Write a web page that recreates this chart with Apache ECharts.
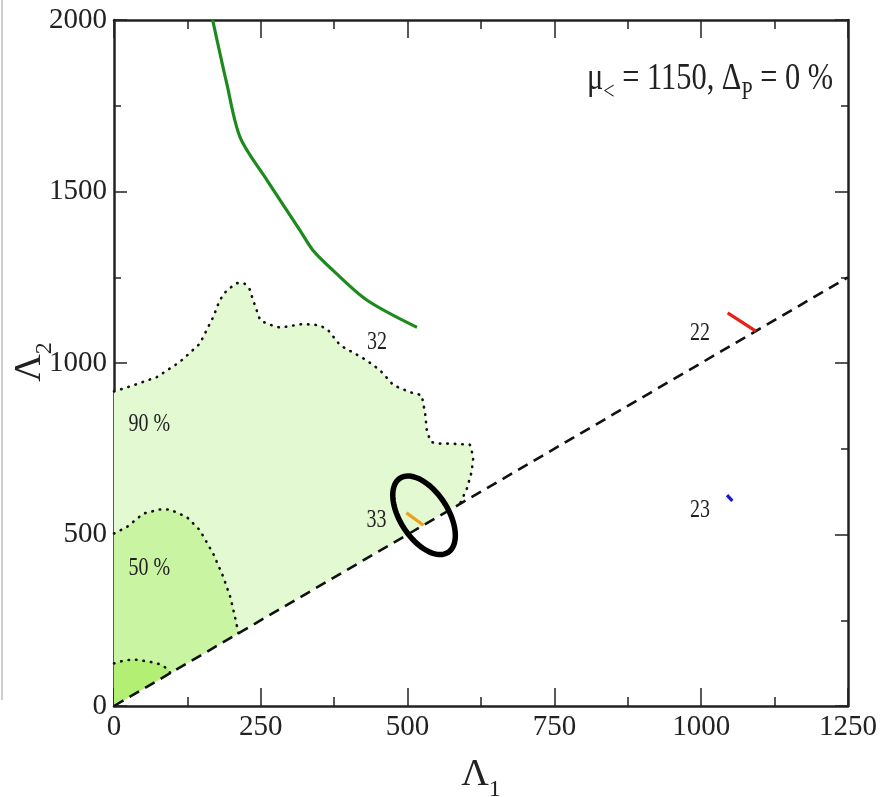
<!DOCTYPE html>
<html>
<head>
<meta charset="utf-8">
<script src="https://cdn.jsdelivr.net/npm/echarts@6/dist/echarts.min.js"></script>
<style>
  html, body { margin: 0; padding: 0; background: #fff; }
  #chart { width: 895px; height: 797px; }
</style>
</head>
<body>
<div id="chart"></div>
<script>
// Axis ranges and tick spacing
const xRange = [0, 1250];
const yRange = [0, 2000];
const xStep = 250;
const yStep = 500;

// Dashed boundary Λ2 = Λ1
const diagonal = [[0, 0], [1250, 1250]];

// Green curve
const greenCurve = [
  [168, 2000], [192, 1815], [215, 1657], [261, 1532], [317, 1386],
  [339, 1328], [373, 1270], [431, 1183], [516, 1104]
];

// Confidence contours (dotted outlines), each closed against the diagonal
const contour90 = [
  [0, 917], [33, 935], [73, 959], [112, 1003], [146, 1056], [169, 1134],
  [180, 1183], [192, 1212], [209, 1233], [222, 1232], [231, 1215], [237, 1183],
  [249, 1124], [263, 1113], [283, 1103], [308, 1110], [322, 1114], [351, 1110],
  [365, 1095], [385, 1052], [430, 1008], [453, 979], [476, 935], [504, 915],
  [524, 906], [530, 852], [533, 799], [540, 770], [549, 765], [572, 765],
  [606, 762], [612, 726], [609, 682], [601, 634], [592, 600], [589, 589]
];
const contour50 = [
  [0, 503], [22, 522], [50, 561], [78, 573], [95, 573], [124, 551],
  [146, 513], [169, 444], [186, 377], [198, 318], [206, 260], [212, 212]
];
const contourInner = [
  [0, 124], [16, 132], [33, 136], [61, 129], [78, 122], [90, 110], [96, 96]
];

// Ellipse: centre and two half-axes, in data units
const ellipseCenter = [528, 556];
const ellipseAxisA = [41, -108];
const ellipseAxisB = [-34, -38];

// Short coloured segments
const seg33 = [[498, 563], [527, 527]];
const seg22 = [[1045, 1146], [1093, 1093]];
const seg23 = [[1044, 615], [1053, 598]];

// In-plot text labels
const labelTexts = ['90 %', '50 %', '32', '33', '22', '23'];
const labelPos = [[60, 821], [60, 401], [448, 1060], [447, 542], [998, 1086], [998, 571]];

const SERIF = '"Liberation Serif", "Times New Roman", serif';
const INK = '#222';
const NARROW = 0.8; // horizontal squeeze for the tall, narrow lettering

function closedRegion(pts) {
  // region bounded by the y-axis, the outline, and the diagonal back to the origin
  return [[0, 0]].concat(pts);
}

function fillSeries(pts, color, z) {
  const poly = closedRegion(pts);
  return {
    type: 'custom',
    z: z,
    silent: true,
    data: [[0, 0]],
    renderItem: function (params, api) {
      return {
        type: 'polygon',
        shape: { points: poly.map(p => api.coord(p)) },
        style: { fill: color, stroke: null }
      };
    }
  };
}

function dottedSeries(pts) {
  return {
    type: 'line', data: pts, showSymbol: false, silent: true, z: 3,
    lineStyle: { color: '#111', width: 2.6, type: [0.5, 7], cap: 'round' }
  };
}

function segmentSeries(pts, color) {
  return {
    type: 'line', data: pts, showSymbol: false, silent: true, z: 6,
    lineStyle: { color: color, width: 3.2 }
  };
}

function axisCommon(show, tickLen, minorLen) {
  return {
    type: 'value',
    axisLine: { show: true, onZero: false, lineStyle: { color: INK, width: 2.5 } },
    axisTick: { show: true, inside: true, length: tickLen, lineStyle: { color: INK, width: 1.5 } },
    minorTick: { show: true, splitNumber: 2, length: minorLen, lineStyle: { color: INK, width: 1.5 } },
    splitLine: { show: false },
    axisLabel: {
      show: show, fontFamily: SERIF, fontSize: 29, color: INK, margin: 7,
      formatter: v => String(v)
    }
  };
}

const chart = echarts.init(document.getElementById('chart'), null, { renderer: 'canvas' });

const nameRich = {
  a: { fontFamily: SERIF, fontSize: 38, color: INK, fill: INK, lineHeight: 38, verticalAlign: 'top' },
  s: { fontFamily: SERIF, fontSize: 24, color: INK, fill: INK, lineHeight: 24, verticalAlign: 'top', padding: [22, 0, 0, 0] }
};

const option = {
  backgroundColor: '#fff',
  animation: false,
  grid: { left: 114, right: 47, top: 20, bottom: 91, containLabel: false, outerBoundsMode: 'none' },
  xAxis: [
    Object.assign(axisCommon(true, 18, 9), {
      min: xRange[0], max: xRange[1], interval: xStep, position: 'bottom',
      name: '{a|Λ}{s|1}', nameLocation: 'middle', nameGap: 50,
      nameTextStyle: { rich: nameRich }
    }),
    Object.assign(axisCommon(false, 18, 9), {
      min: xRange[0], max: xRange[1], interval: xStep, position: 'top'
    })
  ],
  yAxis: [
    Object.assign(axisCommon(true, 13, 7), {
      min: yRange[0], max: yRange[1], interval: yStep, position: 'left'
    }),
    Object.assign(axisCommon(false, 13, 7), {
      min: yRange[0], max: yRange[1], interval: yStep, position: 'right'
    })
  ],
  graphic: [
    { type: 'line', shape: { x1: 2, y1: 0, x2: 2, y2: 700 }, style: { stroke: '#cfcfcf', lineWidth: 2 } },
    {
      // vertical axis title Λ2
      type: 'text', x: 30, y: 362, rotation: Math.PI / 2, z: 10,
      style: {
        text: '{a|Λ}{s|2}',
        align: 'center', verticalAlign: 'middle',
        rich: nameRich
      }
    },
    {
      type: 'text', x: 833, y: 60, z: 10, scaleX: NARROW,
      style: {
        text: '{g|μ}{s|<}{g| = 1150, Δ}{s|P}{g| = 0 %}',
        align: 'right', verticalAlign: 'top',
        rich: {
          g: { fontFamily: SERIF, fontSize: 38, fill: INK, lineHeight: 38, verticalAlign: 'top' },
          s: { fontFamily: SERIF, fontSize: 25, fill: INK, lineHeight: 25, verticalAlign: 'top', padding: [20, 0, 0, 0] }
        }
      }
    }
  ],
  series: [
    fillSeries(contour90, '#e2f9d2', 1),
    fillSeries(contour50, '#c9f5a2', 1.1),
    fillSeries(contourInner, '#b2ef72', 1.2),
    dottedSeries(contour90),
    dottedSeries(contour50),
    dottedSeries(contourInner),
    {
      type: 'line', data: diagonal, showSymbol: false, silent: true, z: 4,
      lineStyle: { color: '#111', width: 2.6, type: [11, 7] }
    },
    {
      type: 'line', data: greenCurve, showSymbol: false, silent: true, z: 5, smooth: 0.3,
      lineStyle: { color: '#1d8a1d', width: 3.2 }
    },
    segmentSeries(seg33, '#f0a020'),
    segmentSeries(seg22, '#e82018'),
    segmentSeries(seg23, '#1818d0'),
    {
      type: 'custom', z: 7, silent: true,
      data: [ellipseCenter],
      renderItem: function (params, api) {
        const pts = [];
        const n = 96;
        for (let i = 0; i < n; i++) {
          const t = (i / n) * Math.PI * 2;
          const c = Math.cos(t), s = Math.sin(t);
          pts.push(api.coord([
            ellipseCenter[0] + ellipseAxisA[0] * c + ellipseAxisB[0] * s,
            ellipseCenter[1] + ellipseAxisA[1] * c + ellipseAxisB[1] * s
          ]));
        }
        return {
          type: 'polygon',
          shape: { points: pts },
          style: { fill: null, stroke: '#000', lineWidth: 5.5 }
        };
      }
    },
    {
      type: 'custom', z: 8, silent: true,
      data: labelPos,
      renderItem: function (params, api) {
        const p = api.coord([api.value(0), api.value(1)]);
        return {
          type: 'text', x: p[0], y: p[1], scaleX: NARROW,
          style: {
            text: labelTexts[params.dataIndex],
            fontFamily: SERIF, fontSize: 25, fill: INK,
            align: 'center', verticalAlign: 'middle'
          }
        };
      }
    }
  ]
};

chart.setOption(option);
</script>
</body>
</html>
